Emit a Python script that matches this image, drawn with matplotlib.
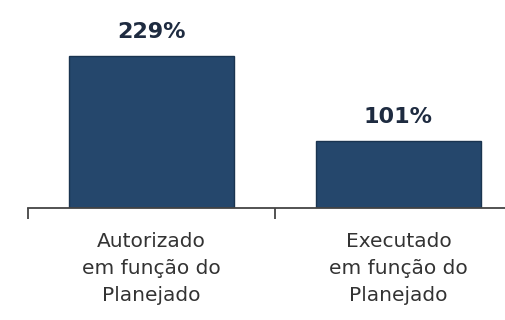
import matplotlib
matplotlib.use("Agg")
import matplotlib.pyplot as plt

categories = ["Autorizado\nem função do\nPlanejado", "Executado\nem função do\nPlanejado"]
values = [229, 101]
value_labels = ["229%", "101%"]

BAR_COLOR = "#25476c"
EDGE_COLOR = "#1a3450"
TEXT_COLOR = "#1e2b40"
AXIS_COLOR = "#444444"

fig = plt.figure(figsize=(5.05, 3.2), dpi=100)
ax = fig.add_axes([28 / 505, 112 / 320, 494 / 505, 208 / 320])

positions = [0.5, 1.5]
ax.bar(positions, values, width=0.668, color=BAR_COLOR,
       edgecolor=EDGE_COLOR, linewidth=1.0)

for x, v, lab in zip(positions, values, value_labels):
    ax.annotate(lab, (x, v), textcoords="offset points", xytext=(0, 10),
                ha="center", va="bottom", fontsize=16, fontweight="bold",
                color=TEXT_COLOR)

ax.set_xlim(0, 2)
ax.set_ylim(0, 313.4)

# category boundaries as outward ticks, names centred under each bar
ax.set_xticks([0, 1, 2])
ax.set_xticklabels([])
ax.set_xticks(positions, minor=True)
ax.set_xticklabels(categories, minor=True, fontsize=14.5, color="#333333",
                   linespacing=1.55)
ax.tick_params(axis="x", which="major", direction="out", length=8,
               width=1.3, color=AXIS_COLOR)
ax.tick_params(axis="x", which="minor", length=0, pad=17)
ax.set_yticks([])

for side in ["top", "right", "left"]:
    ax.spines[side].set_visible(False)
ax.spines["bottom"].set_color(AXIS_COLOR)
ax.spines["bottom"].set_linewidth(1.3)

fig.savefig("out.png", dpi=100)
